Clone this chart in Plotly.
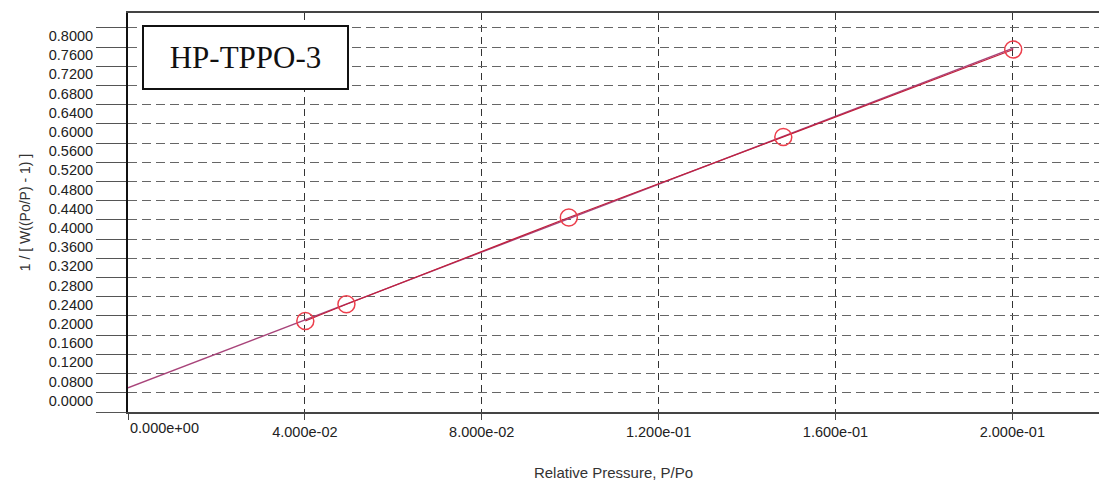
import plotly.graph_objects as go

# Data
rel_pressure = [0.0401, 0.0494, 0.0997, 0.1482, 0.2002]
bet_y = [0.1896, 0.2244, 0.4050, 0.5729, 0.7550]
fit_x = [0.0, 0.2002]
fit_y = [0.0504, 0.7577]

x_tickvals = [0.0, 0.04, 0.08, 0.12, 0.16, 0.20]
x_ticktext = ["", "4.000e-02", "8.000e-02", "1.200e-01", "1.600e-01", "2.000e-01"]
y_tickvals = [0.0, 0.04, 0.08, 0.12, 0.16, 0.20, 0.24, 0.28, 0.32, 0.36, 0.40,
              0.44, 0.48, 0.52, 0.56, 0.60, 0.64, 0.68, 0.72, 0.76, 0.80]
y_ticktext = ["", "0.0000", "0.0800", "0.1200", "0.1600", "0.2000", "0.2400",
              "0.2800", "0.3200", "0.3600", "0.4000", "0.4400", "0.4800",
              "0.5200", "0.5600", "0.6000", "0.6400", "0.6800", "0.7200",
              "0.7600", "0.8000"]
sample_name = "HP-TPPO-3"

fig = go.Figure()
fig.add_trace(go.Scatter(x=fit_x, y=fit_y, mode="lines",
                         line=dict(color="#a8447a", width=1.3),
                         showlegend=False, hoverinfo="skip"))
fig.add_trace(go.Scatter(x=rel_pressure, y=bet_y, mode="lines",
                         line=dict(color="#c0203c", width=1.2),
                         showlegend=False, hoverinfo="skip"))
fig.add_trace(go.Scatter(x=rel_pressure, y=bet_y, mode="markers",
                         marker=dict(symbol="circle-open", size=17,
                                     color="#ec3f4c", line=dict(width=1.5)),
                         showlegend=False))

fig.update_layout(
    width=1099, height=481,
    margin=dict(l=128, r=0, t=13, b=69),
    paper_bgcolor="white", plot_bgcolor="white",
    font=dict(family="Liberation Sans, Arial, sans-serif", size=14, color="#222"),
    xaxis=dict(
        range=[0, 0.2196],
        tickvals=x_tickvals, ticktext=x_ticktext,
        showgrid=True, gridcolor="#333", griddash="7px,5px", gridwidth=1,
        zeroline=False,
        showline=True, linecolor="#444", linewidth=1.5, mirror=True,
        ticks="outside", ticklen=6, tickcolor="#444",
        tickfont=dict(size=14.5, color="#222"),
        title=dict(text="Relative Pressure, P/Po", standoff=28,
                   font=dict(size=15, color="#333")),
    ),
    yaxis=dict(
        range=[0, 0.831],
        tickvals=y_tickvals, ticktext=y_ticktext,
        ticklabelshift=8, ticklabelstandoff=0,
        showgrid=True, gridcolor="#666", griddash="9px,5px", gridwidth=1.3,
        zeroline=False,
        showline=True, linecolor="#111", linewidth=2,
        ticks="outside", ticklen=30, tickcolor="#555", tickwidth=1.3,
        tickfont=dict(size=14.5, color="#222"),
        title=dict(text="1 / [ W((Po/P) - 1) ]", standoff=15,
                   font=dict(size=14, color="#333")),
    ),
)

fig.add_annotation(x=0, y=0, xref="x", yref="paper", text="0.000e+00",
                   showarrow=False, xanchor="left", yanchor="top", yshift=-6,
                   font=dict(size=14.5, color="#222"))

fig.add_annotation(x=0.0144, y=0.971, xref="paper", yref="paper",
                   text=sample_name, showarrow=False,
                   xanchor="left", yanchor="top",
                   width=201, height=59, borderpad=1,
                   bordercolor="#111", borderwidth=2, bgcolor="white",
                   font=dict(family="Liberation Serif, Times New Roman, serif",
                             size=31, color="#111"))

fig.write_html("out.html")
